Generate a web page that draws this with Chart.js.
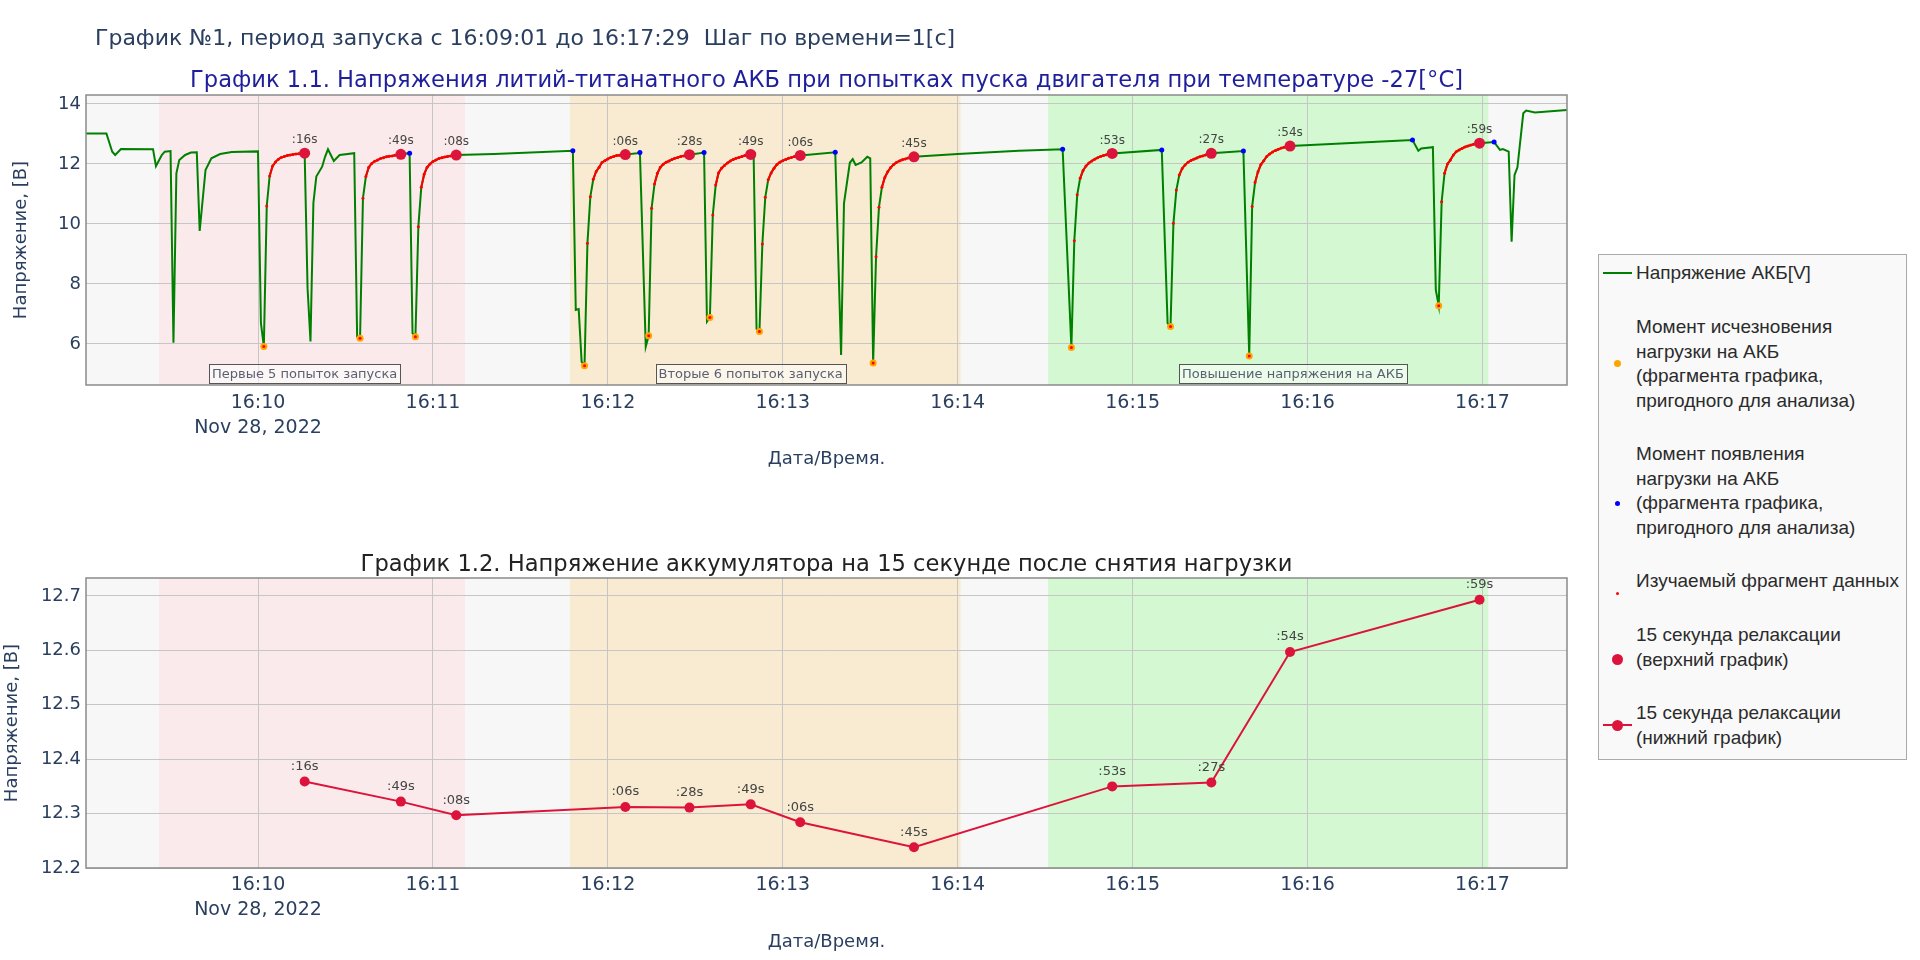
<!DOCTYPE html>
<html lang="ru">
<head>
<meta charset="utf-8">
<title>График №1</title>
<script src="https://cdn.jsdelivr.net/npm/chart.js@4.4.1/dist/chart.umd.min.js"></script>
<style>
  html, body { margin: 0; padding: 0; background: #fff; }
  body { width: 1920px; height: 960px; position: relative; overflow: hidden; }
  canvas { position: absolute; left: 0; }
  #topChart { top: 0; }
  #bottomChart { top: 480px; }
  .legend { position: absolute; left: 1598px; top: 254px; width: 307px; height: 504px;
            background: #f9f9f9; border: 1px solid #aaa;
            font-family: "Liberation Sans", Arial, sans-serif; font-size: 19px; color: #2b2b2b; }
  .legend .txt { position: absolute; left: 37px; line-height: 24.7px; white-space: nowrap; }
  .legend .dot { position: absolute; border-radius: 50%; }
  .legend .ln { position: absolute; height: 2px; }
</style>
</head>
<body>
<canvas id="topChart" width="1920" height="480"></canvas>
<canvas id="bottomChart" width="1920" height="480"></canvas>

<div class="legend">
  <div class="ln" style="left:4px; top:17px; width:29px; background:green;"></div>
  <div class="txt" style="top:6px;">Напряжение АКБ[V]</div>

  <div class="dot" style="left:14.5px; top:104.5px; width:7px; height:7px; background:orange;"></div>
  <div class="txt" style="top:60px;">Момент исчезновения<br>нагрузки на АКБ<br>(фрагмента графика,<br>пригодного для анализа)</div>

  <div class="dot" style="left:15.5px; top:245.5px; width:5px; height:5px; background:blue;"></div>
  <div class="txt" style="top:187px;">Момент появления<br>нагрузки на АКБ<br>(фрагмента графика,<br>пригодного для анализа)</div>

  <div class="dot" style="left:16.5px; top:336.5px; width:3px; height:3px; background:red;"></div>
  <div class="txt" style="top:314px;">Изучаемый фрагмент данных</div>

  <div class="dot" style="left:12.5px; top:398.5px; width:11px; height:11px; background:crimson;"></div>
  <div class="txt" style="top:368px;">15 секунда релаксации<br>(верхний график)</div>

  <div class="ln" style="left:4px; top:469px; width:29px; background:crimson;"></div>
  <div class="dot" style="left:12.5px; top:464.5px; width:11px; height:11px; background:crimson;"></div>
  <div class="txt" style="top:446px;">15 секунда релаксации<br>(нижний график)</div>
</div>

<script>
// напряжение АКБ, шаг 1 с (опорные точки)
const voltTimes = [
  '16:09:01','16:09:08','16:09:10','16:09:11','16:09:13','16:09:24','16:09:25','16:09:27','16:09:28','16:09:30',
  '16:09:31','16:09:32','16:09:33','16:09:35','16:09:37','16:09:39','16:09:40','16:09:42','16:09:44','16:09:47','16:09:51',
  '16:10:00','16:10:01','16:10:02','16:10:03','16:10:04','16:10:05','16:10:06','16:10:07','16:10:08','16:10:09',
  '16:10:10','16:10:11','16:10:12','16:10:13','16:10:14','16:10:15','16:10:16','16:10:17','16:10:18','16:10:19',
  '16:10:20','16:10:22','16:10:23','16:10:24','16:10:26','16:10:28','16:10:33','16:10:34','16:10:35','16:10:36',
  '16:10:37','16:10:38','16:10:39','16:10:40','16:10:41','16:10:42','16:10:43','16:10:44','16:10:45','16:10:46',
  '16:10:47','16:10:48','16:10:49','16:10:50','16:10:52','16:10:53','16:10:54','16:10:55','16:10:56','16:10:57',
  '16:10:58','16:10:59',
  '16:11:00','16:11:01','16:11:02','16:11:03','16:11:04','16:11:05','16:11:06','16:11:07','16:11:08','16:11:21',
  '16:11:48','16:11:49','16:11:50','16:11:51','16:11:52','16:11:53','16:11:54','16:11:55','16:11:56','16:11:57',
  '16:11:58','16:11:59',
  '16:12:00','16:12:01','16:12:02','16:12:03','16:12:04','16:12:05','16:12:06','16:12:10','16:12:11','16:12:13',
  '16:12:14','16:12:15','16:12:16','16:12:17','16:12:18','16:12:19','16:12:20','16:12:21','16:12:22','16:12:23',
  '16:12:24','16:12:25','16:12:26','16:12:27','16:12:28','16:12:33','16:12:34','16:12:35','16:12:36','16:12:37',
  '16:12:38','16:12:39','16:12:40','16:12:41','16:12:42','16:12:43','16:12:44','16:12:45','16:12:46','16:12:47',
  '16:12:48','16:12:49','16:12:50','16:12:51','16:12:52','16:12:53','16:12:54','16:12:55','16:12:56','16:12:57',
  '16:12:58','16:12:59',
  '16:13:00','16:13:01','16:13:02','16:13:03','16:13:04','16:13:05','16:13:06','16:13:18','16:13:20','16:13:21',
  '16:13:23','16:13:24','16:13:25','16:13:27','16:13:29','16:13:30','16:13:31','16:13:32','16:13:33','16:13:34',
  '16:13:35','16:13:36','16:13:37','16:13:38','16:13:39','16:13:40','16:13:41','16:13:42','16:13:43','16:13:44',
  '16:13:45',
  '16:14:00','16:14:21','16:14:36','16:14:39','16:14:40','16:14:41','16:14:42','16:14:43','16:14:44','16:14:45',
  '16:14:46','16:14:47','16:14:48','16:14:49','16:14:50','16:14:51','16:14:52','16:14:53',
  '16:15:10','16:15:12','16:15:13','16:15:14','16:15:15','16:15:16','16:15:17','16:15:18','16:15:19','16:15:20',
  '16:15:21','16:15:22','16:15:23','16:15:24','16:15:25','16:15:26','16:15:27','16:15:38','16:15:40','16:15:41',
  '16:15:42','16:15:43','16:15:44','16:15:45','16:15:46','16:15:47','16:15:48','16:15:49','16:15:50','16:15:51',
  '16:15:52','16:15:53','16:15:54',
  '16:16:36','16:16:38','16:16:39','16:16:43','16:16:44','16:16:45','16:16:46','16:16:47','16:16:48','16:16:49',
  '16:16:50','16:16:51','16:16:52','16:16:53','16:16:54','16:16:55','16:16:56','16:16:57','16:16:58','16:16:59',
  '16:17:04','16:17:06','16:17:07','16:17:09','16:17:10','16:17:11','16:17:12','16:17:14','16:17:15','16:17:18',
  '16:17:29'
];
const voltValues = [
  13.02, 13.02, 12.41, 12.30, 12.50, 12.49, 11.93, 12.30, 12.41, 12.43,
  6.04, 11.69, 12.13, 12.30, 12.38, 12.39, 9.77, 11.80, 12.19, 12.33, 12.40,
  12.42, 6.69, 5.91, 10.60, 11.60, 11.93, 12.07, 12.16, 12.22, 12.25,
  12.28, 12.30, 12.32, 12.33, 12.34, 12.35, 12.359, 7.86, 6.08, 10.70,
  11.58, 11.91, 12.24, 12.49, 12.10, 12.30, 12.36, 6.24, 6.19, 10.86,
  11.58, 11.89, 12.02, 12.09, 12.13, 12.18, 12.21, 12.24, 12.26, 12.27,
  12.29, 12.31, 12.322, 12.34, 12.36, 6.36, 6.24, 9.91, 11.22, 11.66,
  11.89, 12.00,
  12.08, 12.13, 12.18, 12.21, 12.23, 12.25, 12.27, 12.28, 12.297, 12.33,
  12.44, 7.13, 7.16, 5.41, 5.27, 9.36, 10.91, 11.49, 11.75, 11.89,
  12.05, 12.11,
  12.17, 12.22, 12.25, 12.28, 12.29, 12.30, 12.312, 12.36, 12.38, 5.91,
  6.27, 10.52, 11.33, 11.69, 11.89, 11.99, 12.06, 12.10, 12.15, 12.19,
  12.22, 12.25, 12.27, 12.29, 12.311, 12.38, 6.74, 6.88, 10.30, 11.30,
  11.71, 11.86, 11.95, 12.03, 12.10, 12.15, 12.19, 12.22, 12.25, 12.28,
  12.30, 12.317, 12.33, 6.50, 6.41, 9.33, 10.89, 11.47, 11.70, 11.86,
  11.98, 12.06,
  12.11, 12.15, 12.19, 12.22, 12.25, 12.27, 12.284, 12.39, 5.63, 10.69,
  12.04, 12.16, 11.97, 12.05, 12.24, 12.19, 5.36, 8.91, 10.56, 11.22,
  11.55, 11.74, 11.88, 11.98, 12.05, 12.10, 12.14, 12.17, 12.20, 12.22,
  12.238,
  12.33, 12.44, 12.49, 5.88, 9.44, 10.97, 11.52, 11.78, 11.93, 12.03,
  12.10, 12.16, 12.21, 12.25, 12.28, 12.31, 12.33, 12.35,
  12.47, 6.69, 6.58, 10.02, 11.13, 11.63, 11.85, 11.97, 12.06, 12.12,
  12.16, 12.20, 12.24, 12.27, 12.30, 12.33, 12.357, 12.43, 5.60, 10.58,
  11.38, 11.74, 11.98, 12.11, 12.25, 12.33, 12.40, 12.45, 12.49, 12.53,
  12.56, 12.58, 12.597,
  12.80, 12.44, 12.52, 12.56, 7.80, 7.27, 10.74, 11.69, 12.00, 12.13,
  12.30, 12.41, 12.47, 12.52, 12.57, 12.60, 12.63, 12.66, 12.68, 12.693,
  12.73, 12.47, 12.50, 12.41, 9.41, 11.63, 11.89, 13.69, 13.78, 13.72,
  13.80
];

// моменты исчезновения / появления нагрузки и 15-я секунда релаксации
const dropTimes = ['16:10:02','16:10:35','16:10:54','16:11:52','16:12:14','16:12:35',
                   '16:12:52','16:13:31','16:14:39','16:15:13','16:15:40','16:16:45'];
const loadTimes = ['16:10:52','16:11:48','16:12:11','16:12:33','16:12:50','16:13:18',
                   '16:14:36','16:15:10','16:15:38','16:16:36','16:17:04'];
const relaxTimes = ['16:10:16','16:10:49','16:11:08','16:12:06','16:12:28','16:12:49',
                    '16:13:06','16:13:45','16:14:53','16:15:27','16:15:54','16:16:59'];

// зоны попыток запуска
const bandStarts = ['16:09:26', '16:11:47', '16:14:31'];
const bandEnds   = ['16:11:11', '16:14:01', '16:17:02'];
const bandColors = ['#fbeaeb', '#f9ebd1', '#d4f8d2'];
const bandNotes  = ['Первые 5 попыток запуска', 'Вторые 6 попыток запуска', 'Повышение напряжения на АКБ'];
const noteTimes  = ['16:10:16', '16:12:49', '16:15:55'];

const minuteTicks = ['16:10', '16:11', '16:12', '16:13', '16:14', '16:15', '16:16', '16:17'];
const topYTicks = [6, 8, 10, 12, 14];
const bottomYTicks = [12.2, 12.3, 12.4, 12.5, 12.6, 12.7];
const startTime = '16:09:01';
const endTime = '16:17:29';
const dateLabel = 'Nov 28, 2022';

function sec(s) {
  const p = s.split(':').map(Number);
  return p[0] * 3600 + p[1] * 60 + (p[2] || 0);
}
function pad(n) { return String(n).padStart(2, '0'); }
function hhmm(v) { return pad(Math.floor(v / 3600)) + ':' + pad(Math.floor(v % 3600 / 60)); }

const volt = voltTimes.map((t, i) => ({ x: sec(t), y: voltValues[i] }));
const voltAt = t => volt.find(p => p.x === sec(t)).y;
const dropPts = dropTimes.map(t => ({ x: sec(t), y: voltAt(t) }));
const loadPts = loadTimes.map(t => ({ x: sec(t), y: voltAt(t) }));
const relaxPts = relaxTimes.map(t => ({ x: sec(t), y: voltAt(t) }));
const relaxLabels = relaxTimes.map(t => ':' + t.slice(-2) + 's');

// изучаемый фрагмент: от исчезновения нагрузки до 15-й секунды
const fragment = [];
dropTimes.forEach((t, i) => {
  const a = sec(t), b = sec(relaxTimes[i]);
  volt.filter(p => p.x >= a && p.x <= b).forEach(p => fragment.push(p));
  fragment.push({ x: b + 0.5, y: null });
});

Chart.defaults.font.family = '"DejaVu Sans", Verdana, sans-serif';
Chart.defaults.color = '#2a3f5f';

const decor = {
  id: 'decor',
  beforeDraw(chart, args, opts) {
    const { ctx, chartArea: a, scales: { x } } = chart;
    ctx.save();
    ctx.fillStyle = '#f7f7f7';
    ctx.fillRect(a.left, a.top, a.width, a.height);
    bandStarts.forEach((s, i) => {
      const x0 = x.getPixelForValue(sec(s));
      const x1 = x.getPixelForValue(sec(bandEnds[i]));
      ctx.fillStyle = bandColors[i];
      ctx.fillRect(x0, a.top, x1 - x0, a.height);
    });
    ctx.restore();
  },
  afterDatasetsDraw(chart, args, opts) {
    const { ctx, chartArea: a, scales: { x } } = chart;
    ctx.save();
    // подписи секунд над точками
    chart.data.datasets.forEach((ds, i) => {
      if (!ds.pointLabels) return;
      ctx.font = opts.labelFont;
      ctx.fillStyle = '#444';
      ctx.textAlign = 'center';
      ctx.textBaseline = 'middle';
      chart.getDatasetMeta(i).data.forEach((el, j) => {
        ctx.fillText(ds.pointLabels[j], el.x, el.y - opts.labelOffset);
      });
    });
    // пояснения к зонам
    if (opts.notes) {
      ctx.font = '13px "DejaVu Sans"';
      ctx.textAlign = 'center';
      ctx.textBaseline = 'middle';
      noteTimes.forEach((t, i) => {
        const cx = x.getPixelForValue(sec(t));
        const cy = a.bottom - 11.5;
        const w = ctx.measureText(bandNotes[i]).width + 6;
        ctx.fillStyle = 'rgba(255,255,255,0.55)';
        ctx.fillRect(cx - w / 2, cy - 9.5, w, 19);
        ctx.strokeStyle = '#555';
        ctx.lineWidth = 1;
        ctx.strokeRect(Math.round(cx - w / 2) + 0.5, Math.round(cy - 9.5) + 0.5, Math.round(w), 19);
        ctx.fillStyle = '#5b6070';
        ctx.fillText(bandNotes[i], cx, cy + 1);
      });
    }
    // рамка области построения
    ctx.strokeStyle = '#8a8a8a';
    ctx.lineWidth = 1.5;
    ctx.strokeRect(a.left, a.top, a.width, a.height);
    // заголовки
    ctx.textBaseline = 'middle';
    if (opts.mainTitle) {
      ctx.font = '22px "DejaVu Sans"';
      ctx.fillStyle = '#2a3f5f';
      ctx.textAlign = 'left';
      ctx.fillText(opts.mainTitle, 95, 39);
    }
    ctx.font = opts.titleFont;
    ctx.fillStyle = opts.titleColor;
    ctx.textAlign = 'center';
    ctx.fillText(opts.title, (a.left + a.right) / 2, opts.titleY);
    ctx.restore();
  }
};

function xScale(tickPad, titlePad) {
  return {
    type: 'linear',
    min: sec(startTime),
    max: sec(endTime),
    afterBuildTicks: s => { s.ticks = minuteTicks.map(m => ({ value: sec(m) })); },
    afterFit: s => { s.height = 480 - s.chart.options.layout.padding.top - s.chart.options.plotHeight; },
    grid: { color: '#c6c6c6', lineWidth: 1, drawTicks: false },
    border: { display: false },
    ticks: {
      padding: tickPad,
      maxRotation: 0,
      autoSkip: false,
      font: { size: 19, lineHeight: 1.3 },
      callback: (v, i) => i === 0 ? [hhmm(v), dateLabel] : hhmm(v)
    },
    title: { display: true, text: 'Дата/Время.', font: { size: 18 }, padding: { top: 0, bottom: titlePad } }
  };
}

function yScale(min, max, ticks, digits, titlePad) {
  return {
    min: min,
    max: max,
    afterBuildTicks: s => { s.ticks = ticks.map(v => ({ value: v })); },
    afterFit: s => { s.width = 86; },
    grid: { color: '#c6c6c6', lineWidth: 1, drawTicks: false },
    border: { display: false },
    ticks: { padding: 5, font: { size: 18 }, callback: v => v.toFixed(digits) },
    title: { display: true, text: 'Напряжение, [В]', font: { size: 18 }, padding: { top: titlePad, bottom: 0 } }
  };
}

new Chart(document.getElementById('topChart'), {
  type: 'scatter',
  data: {
    datasets: [
      { label: 'Напряжение АКБ[V]', data: volt, showLine: true, borderColor: 'green', borderWidth: 2,
        pointRadius: 0, order: 5 },
      { label: 'Момент исчезновения нагрузки', data: dropPts, pointRadius: 3.5, pointBorderWidth: 0,
        pointBackgroundColor: 'orange', order: 4 },
      { label: 'Момент появления нагрузки', data: loadPts, pointRadius: 2.5, pointBorderWidth: 0,
        pointBackgroundColor: 'blue', order: 3 },
      { label: 'Изучаемый фрагмент данных', data: fragment, showLine: true, spanGaps: false, borderWidth: 2,
        borderColor: 'red', pointRadius: 1.5, pointBorderWidth: 0, pointBackgroundColor: 'red', order: 2,
        segment: { borderColor: c => Math.abs(c.p1.parsed.y - c.p0.parsed.y) > 0.45 ? 'rgba(0,0,0,0)' : 'red' } },
      { label: '15 секунда релаксации (верхний график)', data: relaxPts, pointRadius: 5.5, pointBorderWidth: 0,
        pointBackgroundColor: 'crimson', order: 1, pointLabels: relaxLabels }
    ]
  },
  options: {
    responsive: false,
    animation: false,
    devicePixelRatio: 1,
    events: [],
    plotHeight: 290,
    layout: { padding: { top: 95, right: 353, left: 0, bottom: 0 } },
    scales: { x: xScale(6, 10), y: yScale(4.63, 14.3, topYTicks, 0, 11) },
    plugins: {
      legend: { display: false },
      tooltip: { enabled: false },
      decor: {
        mainTitle: 'График №1, период запуска с 16:09:01 до 16:17:29  Шаг по времени=1[с]',
        title: 'График 1.1. Напряжения литий-титанатного АКБ при попытках пуска двигателя при температуре -27[°C]',
        titleFont: '22.6px "DejaVu Sans"', titleColor: '#1f1f9c', titleY: 81,
        labelFont: '12px "DejaVu Sans"', labelOffset: 13, notes: true
      }
    }
  },
  plugins: [decor]
});

new Chart(document.getElementById('bottomChart'), {
  type: 'scatter',
  data: {
    datasets: [
      { label: '15 секунда релаксации (нижний график)', data: relaxPts, showLine: true, borderColor: 'crimson',
        borderWidth: 2, pointRadius: 5, pointBorderWidth: 0, pointBackgroundColor: 'crimson',
        pointLabels: relaxLabels }
    ]
  },
  options: {
    responsive: false,
    animation: false,
    devicePixelRatio: 1,
    events: [],
    plotHeight: 290,
    layout: { padding: { top: 98, right: 353, left: 0, bottom: 0 } },
    scales: { x: xScale(5, 7), y: yScale(12.2, 12.733, bottomYTicks, 1, 2) },
    plugins: {
      legend: { display: false },
      tooltip: { enabled: false },
      decor: {
        title: 'График 1.2. Напряжение аккумулятора на 15 секунде после снятия нагрузки',
        titleFont: '22.6px "DejaVu Sans"', titleColor: '#222', titleY: 85,
        labelFont: '13px "DejaVu Sans"', labelOffset: 15, notes: false
      }
    }
  },
  plugins: [decor]
});
</script>
</body>
</html>
